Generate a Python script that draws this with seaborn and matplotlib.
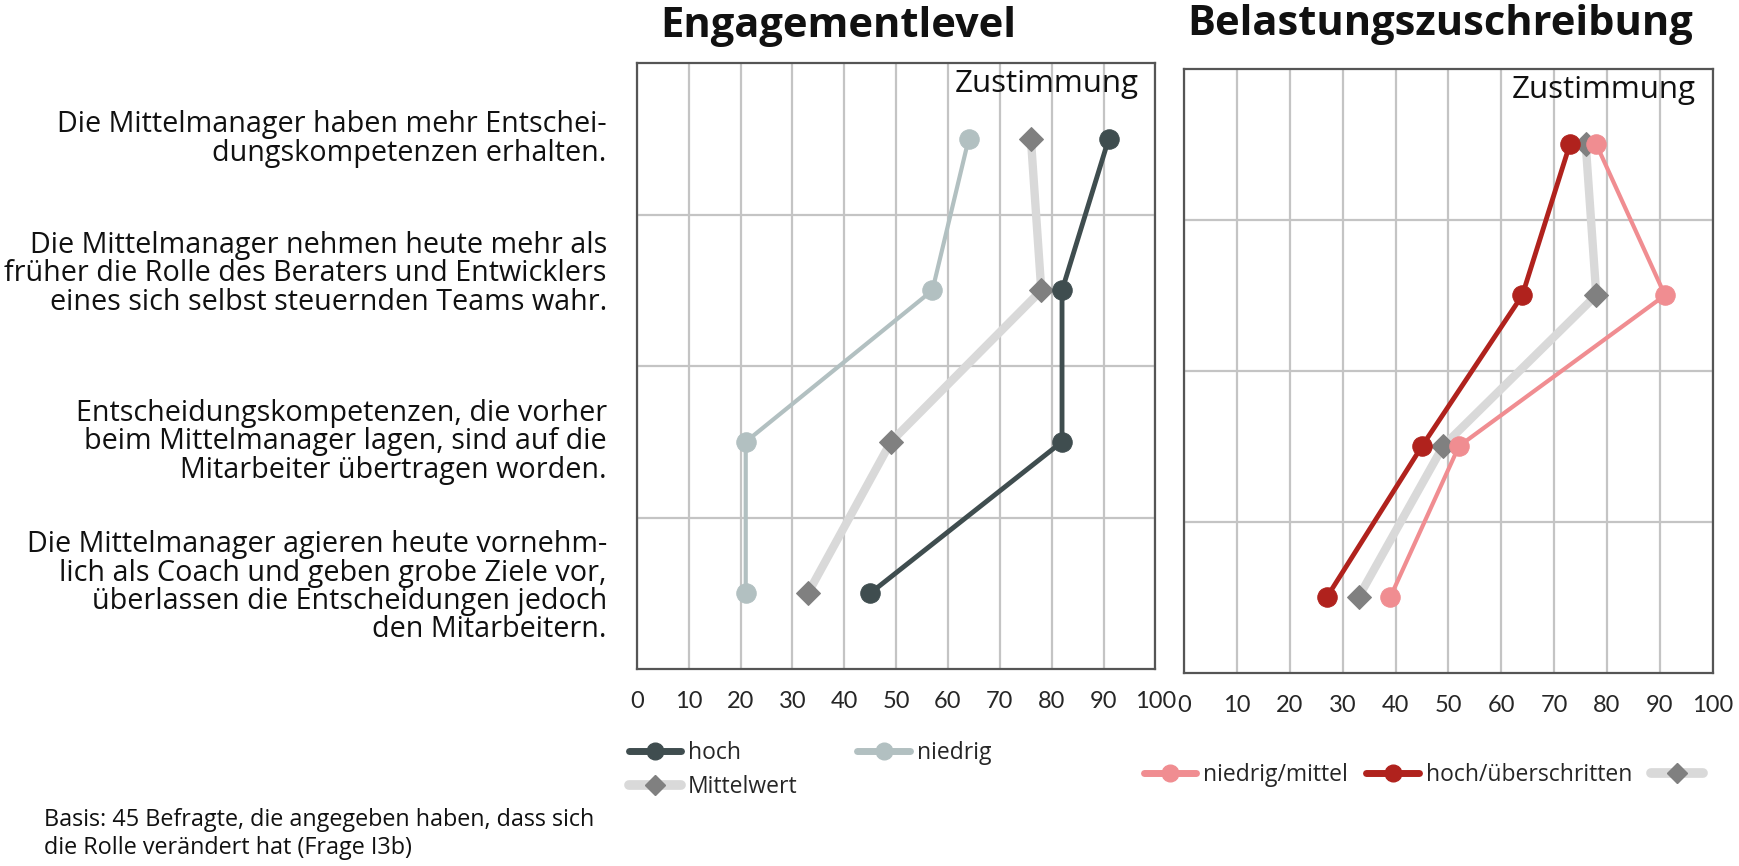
import matplotlib
matplotlib.use("Agg")
import matplotlib.pyplot as plt
import matplotlib.transforms as mtransforms
from matplotlib.lines import Line2D
import seaborn as sns
import pandas as pd

# Aussagen (y-Achse)
aussagen = [
    "Die Mittelmanager haben mehr Entschei-\ndungskompetenzen erhalten.",
    "Die Mittelmanager nehmen heute mehr als\nfrüher die Rolle des Beraters und Entwicklers\neines sich selbst steuernden Teams wahr.",
    "Entscheidungskompetenzen, die vorher\nbeim Mittelmanager lagen, sind auf die\nMitarbeiter übertragen worden.",
    "Die Mittelmanager agieren heute vornehm-\nlich als Coach und geben grobe Ziele vor,\nüberlassen die Entscheidungen jedoch\nden Mitarbeitern.",
]
zeilen = [0, 1, 2, 3]

# Zustimmung in %
eng_hoch = [91, 82, 82, 45]
eng_niedrig = [64, 57, 21, 21]
mittelwert = [76, 78, 49, 33]
bel_niedrig_mittel = [78, 91, 52, 39]
bel_hoch_ueberschritten = [73, 64, 45, 27]

x_ticks = [0, 10, 20, 30, 40, 50, 60, 70, 80, 90, 100]

# Farben
c_hoch = "#3f4d4f"
c_niedrig = "#b2c0c1"
c_mw_line = "#d9d9d9"
c_mw_marker = "#808080"
c_pink = "#f08d91"
c_rot = "#b0221d"

sns.set_style("white")
plt.rcParams["font.family"] = ["Open Sans", "DejaVu Sans"]

fig = plt.figure(figsize=(17.4, 8.66), dpi=100)
ax1 = fig.add_axes([0.366, 0.2275, 0.298, 0.6995])
ax2 = fig.add_axes([0.6806, 0.2233, 0.3036, 0.6973])


def serie(ax, werte, farbe, lw, marker, mcolor, ms, z):
    df = pd.DataFrame({"wert": werte, "zeile": zeilen})
    sns.lineplot(data=df, x="wert", y="zeile", sort=False, estimator=None,
                 color=farbe, linewidth=lw, marker=marker, markersize=ms,
                 markerfacecolor=mcolor, markeredgecolor=mcolor,
                 ax=ax, zorder=z, legend=False)


def achse(ax):
    ax.set_xlim(0, 100)
    ax.set_ylim(3.5, -0.5)
    ax.set_xticks(x_ticks)
    ax.set_xticklabels([str(t) for t in x_ticks],
                       family=["Liberation Sans Narrow", "Lato", "DejaVu Sans"], fontsize=17)
    ax.xaxis.grid(True, color="#c4c4c4", linewidth=1.6)
    for yy in [0.5, 1.5, 2.5]:
        ax.axhline(yy, color="#c4c4c4", linewidth=1.6, zorder=0.5)
    ax.set_axisbelow(True)
    ax.tick_params(axis="x", length=0, pad=16)
    ax.set_yticks(zeilen)
    ax.set_yticklabels([])
    ax.tick_params(axis="y", length=0)
    ax.set_xlabel("")
    ax.set_ylabel("")
    for s in ax.spines.values():
        s.set_color("#555555")
        s.set_linewidth(1.6)
    ax.text(0.968, 0.99, "Zustimmung", transform=ax.transAxes,
            ha="right", va="top", fontsize=22.5, color="#111111")


# Engagementlevel
serie(ax1, mittelwert, c_mw_line, 6, "D", c_mw_marker, 12, 2)
serie(ax1, eng_niedrig, c_niedrig, 3, "o", c_niedrig, 14, 3)
serie(ax1, eng_hoch, c_hoch, 3.5, "o", c_hoch, 14, 4)
achse(ax1)

# Beschriftung der Aussagen links, rechtsbündig
trans = mtransforms.blended_transform_factory(ax1.transAxes, ax1.transData)
label_versatz = [0.0, -0.11, 0.0, -0.04]
for z, txt, dv in zip(zeilen, aussagen, label_versatz):
    ax1.text(-0.058, z + dv, txt, transform=trans, ha="right", va="center",
             multialignment="right", fontsize=20.7, linespacing=0.97, color="#111111")

# Belastungszuschreibung
serie(ax2, mittelwert, c_mw_line, 6, "D", c_mw_marker, 12, 2)
serie(ax2, bel_niedrig_mittel, c_pink, 3, "o", c_pink, 14, 3)
serie(ax2, bel_hoch_ueberschritten, c_rot, 3.5, "o", c_rot, 14, 4)
achse(ax2)

fig.text(0.482, 0.969, "Engagementlevel", ha="center", va="center",
         fontsize=30, fontweight="bold", color="#111111")
fig.text(0.8276, 0.972, "Belastungszuschreibung", ha="center", va="center",
         fontsize=30, fontweight="bold", color="#111111")


def h(farbe, lw, marker, mcolor, ms):
    return Line2D([], [], color=farbe, linewidth=lw, marker=marker,
                  markersize=ms, markerfacecolor=mcolor, markeredgecolor=mcolor)


leg1 = fig.legend(
    [h(c_hoch, 5, "o", c_hoch, 12), h(c_mw_line, 7, "D", c_mw_marker, 10), h(c_niedrig, 5, "o", c_niedrig, 12)],
    ["hoch", "Mittelwert", "niedrig"],
    ncol=2, loc="upper left", bbox_to_anchor=(0.356, 0.155), frameon=False,
    fontsize=16.5, handlelength=2.3, handletextpad=0.3, columnspacing=2.6,
    labelspacing=0.45, borderaxespad=0)

leg2 = fig.legend(
    [h(c_pink, 5, "o", c_pink, 12), h(c_rot, 5, "o", c_rot, 12), h(c_mw_line, 7, "D", c_mw_marker, 10)],
    ["niedrig/mittel", "hoch/überschritten", ""],
    ncol=3, loc="upper left", bbox_to_anchor=(0.652, 0.13), frameon=False,
    fontsize=16.5, handlelength=2.3, handletextpad=0.3, columnspacing=0.8,
    borderaxespad=0)

fig.text(0.025, 0.067, "Basis: 45 Befragte, die angegeben haben, dass sich\ndie Rolle verändert hat (Frage I3b)",
         ha="left", va="top", fontsize=16.8, color="#111111", linespacing=1.2)

fig.savefig("out.png", dpi=100)
